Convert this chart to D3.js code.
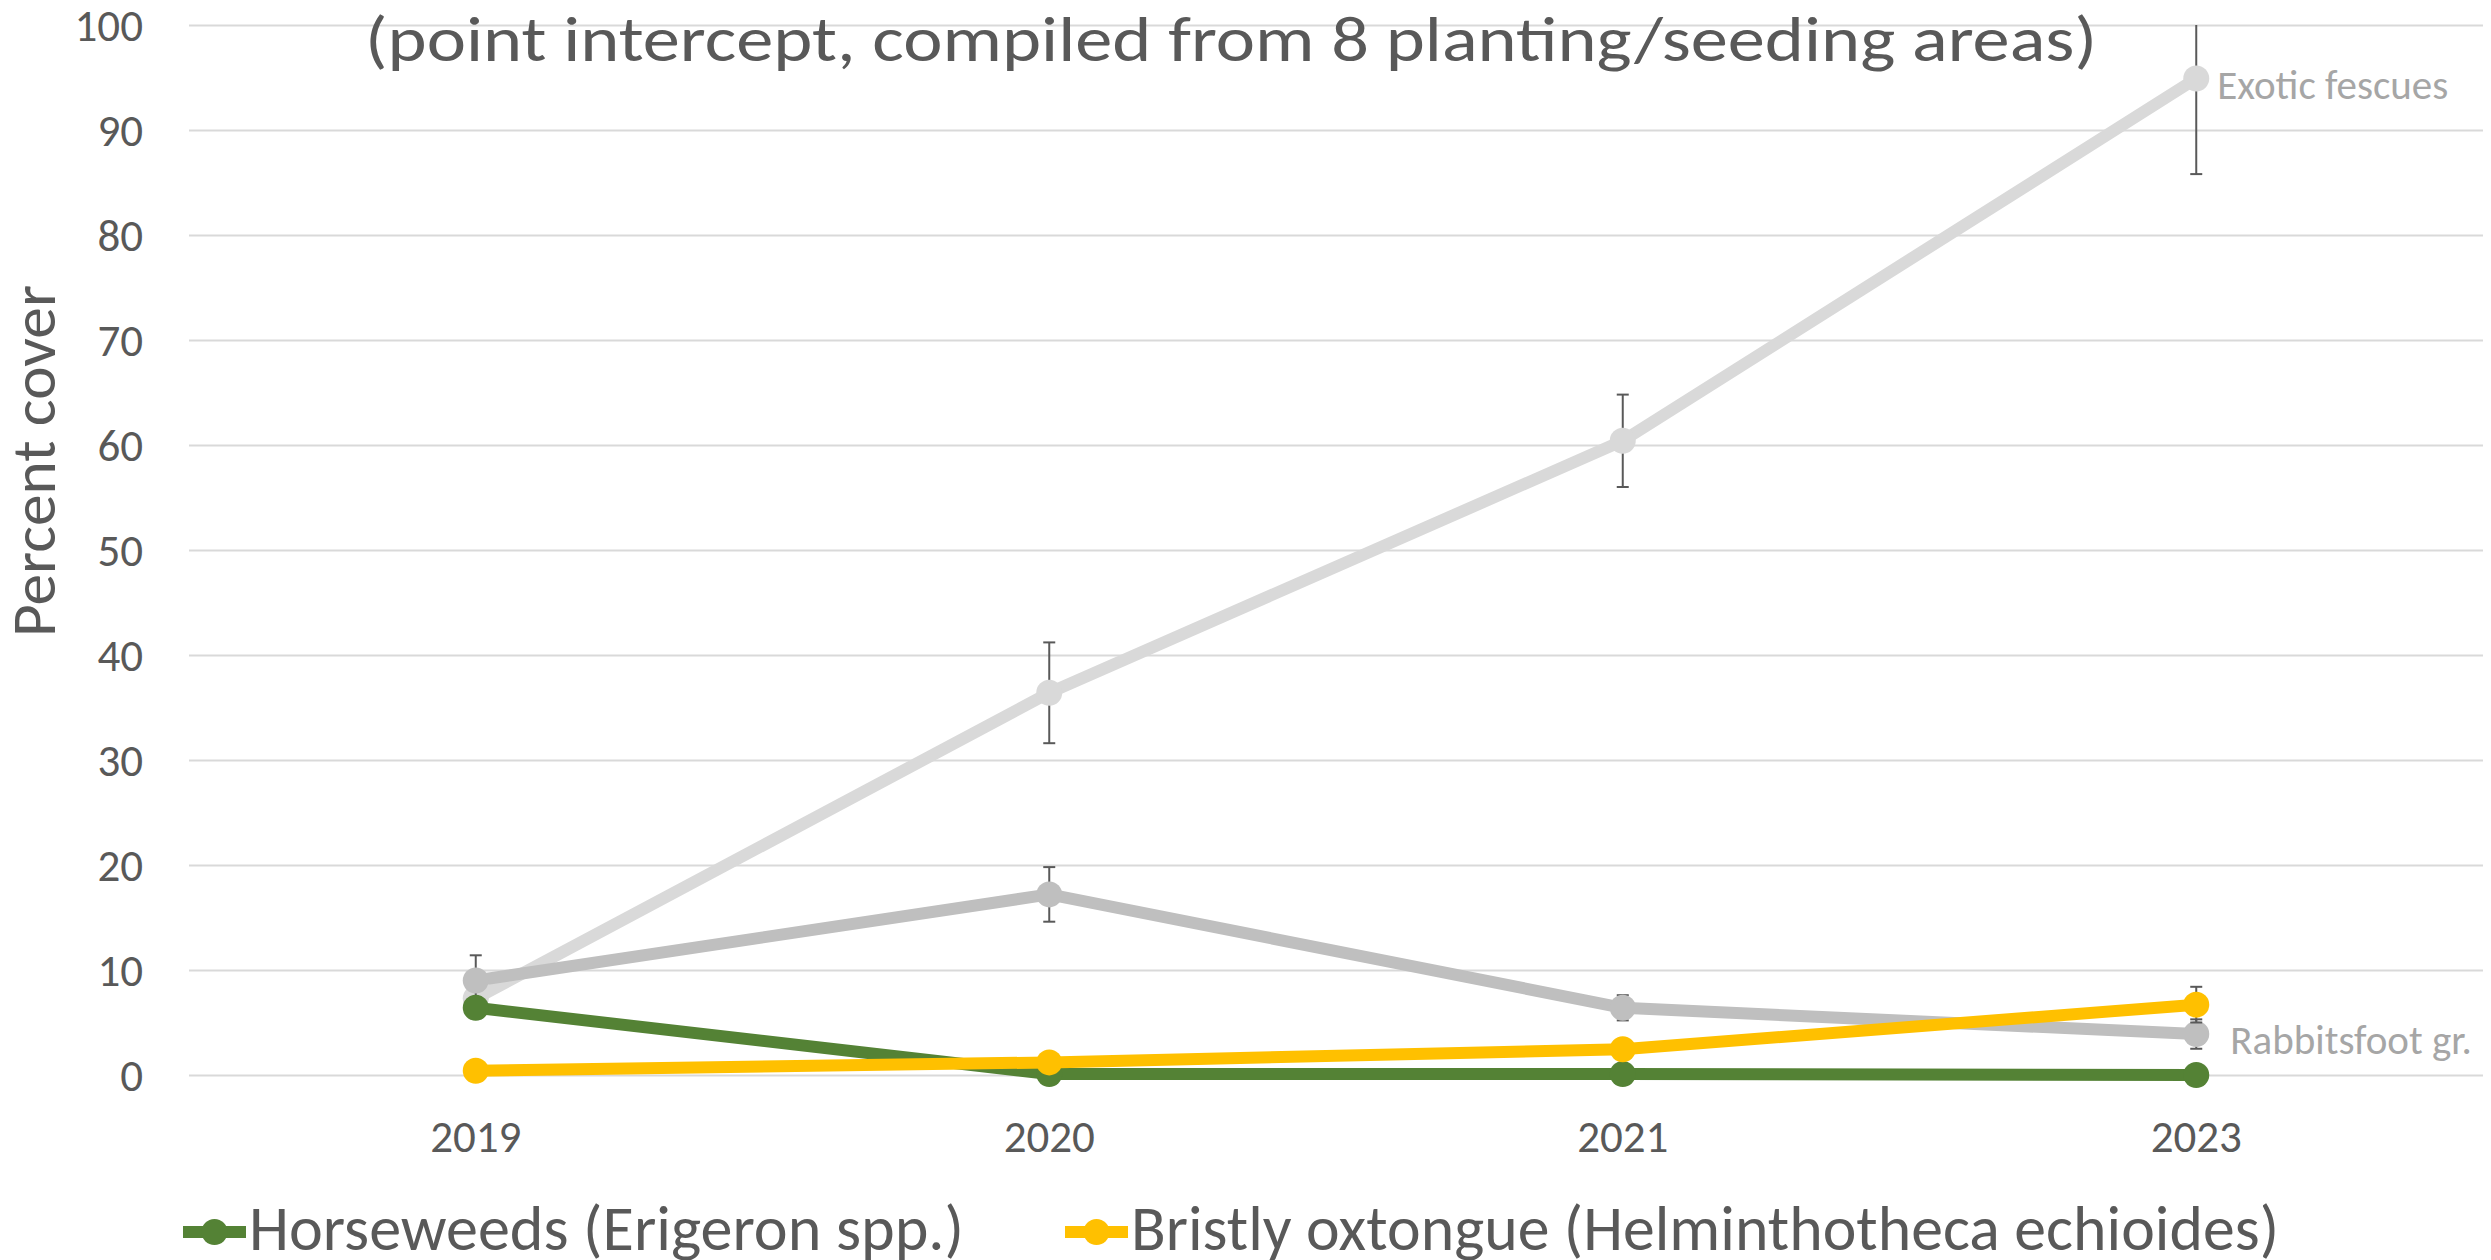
<!DOCTYPE html>
<html>
<head>
<meta charset="utf-8">
<script src="https://cdn.jsdelivr.net/npm/d3@7/dist/d3.min.js"></script>
<style>
  html, body { margin: 0; padding: 0; background: #ffffff; }
  svg { display: block; }
  text { font-family: Carlito, Lato, "Open Sans", sans-serif; }
</style>
</head>
<body>
<svg id="chart" width="2491" height="1260"></svg>
<script>
// ---- data ----
const years = ["2019", "2020", "2021", "2023"];
const yTicks = [0, 10, 20, 30, 40, 50, 60, 70, 80, 90, 100];

const fescues        = [7.3, 36.4, 60.4, 94.9];
const fescuesErr     = [1.5, 4.8, 4.4, 9.1];
const rabbitsfoot    = [9.0, 17.2, 6.4, 3.9];
const rabbitsfootErr = [2.4, 2.6, 1.2, 1.4];
const horseweeds     = [6.4, 0.1, 0.1, 0.0];
const horseweedsErr  = [1.0, 0.1, 0.1, 0.1];
const bristly        = [0.4, 1.2, 2.45, 6.7];
const bristlyErr     = [0.3, 0.5, 0.8, 1.7];

const titleText = "(point intercept, compiled from 8 planting/seeding areas)";
const yAxisTitle = "Percent cover";

const series = [
  { name: "Exotic fescues", values: fescues, err: fescuesErr, color: "#D9D9D9", label: "Exotic fescues", labelDx: 21, labelDy: 20, legend: false },
  { name: "Rabbitsfoot grass", values: rabbitsfoot, err: rabbitsfootErr, color: "#BFBFBF", label: "Rabbitsfoot gr.", labelDx: 34, labelDy: 20, legend: false },
  { name: "Horseweeds (Erigeron spp.)", values: horseweeds, err: horseweedsErr, color: "#548235", label: null, legend: true, legendX: 183, legendW: 715 },
  { name: "Bristly oxtongue (Helminthotheca echioides)", values: bristly, err: bristlyErr, color: "#FFC000", label: null, legend: true, legendX: 1065, legendW: 1148 }
];

// ---- layout ----
const svg = d3.select("#chart");
const plot = { left: 189, right: 2483, top: 25, bottom: 1075 };
const textColor = "#595959";
const lineW = 12;

const x = d3.scaleBand().domain(years).range([plot.left, plot.right]).padding(0);
const cx = d => x(d) + x.bandwidth() / 2;
const y = d3.scaleLinear().domain([0, 100]).range([plot.bottom, plot.top]);

// clip for error bars
svg.append("defs").append("clipPath").attr("id", "plotClip")
  .append("rect").attr("x", plot.left).attr("y", plot.top)
  .attr("width", plot.right - plot.left).attr("height", plot.bottom - plot.top);

// y axis with gridlines
const yAxis = d3.axisLeft(y).tickValues(yTicks)
  .tickSizeInner(-(plot.right - plot.left)).tickSizeOuter(0).tickPadding(46)
  .tickFormat(d3.format("d"));
const gy = svg.append("g").attr("transform", `translate(${plot.left},0)`).call(yAxis);
gy.select(".domain").remove();
gy.selectAll(".tick line").attr("stroke", "#D9D9D9").attr("stroke-width", 2);
gy.selectAll(".tick text").attr("fill", textColor).style("font-size", "45px").attr("dy", "0.34em");

// x axis labels
const xAxis = d3.axisBottom(x).tickSize(0).tickPadding(0);
const gx = svg.append("g").attr("transform", `translate(0,${plot.bottom})`).call(xAxis);
gx.select(".domain").remove();
gx.selectAll(".tick text").attr("fill", textColor).style("font-size", "45px")
  .attr("y", 77).attr("dy", 0);

// y axis title
svg.append("text")
  .attr("transform", "translate(55,461) rotate(-90)")
  .attr("text-anchor", "middle")
  .attr("fill", textColor).style("font-size", "62px")
  .attr("textLength", 352).attr("lengthAdjust", "spacingAndGlyphs")
  .text(yAxisTitle);

// title (second line visible)
svg.append("text")
  .attr("x", 365).attr("y", 61)
  .attr("fill", textColor).style("font-size", "64px")
  .attr("textLength", 1732).attr("lengthAdjust", "spacingAndGlyphs")
  .text(titleText);

// series
const line = d3.line().x((d, i) => cx(years[i])).y(d => y(d));
series.forEach(s => {
  const g = svg.append("g");
  g.append("path").datum(s.values)
    .attr("d", line).attr("fill", "none")
    .attr("stroke", s.color).attr("stroke-width", lineW)
    .attr("stroke-linejoin", "round");

  const eg = g.append("g").attr("clip-path", "url(#plotClip)")
    .attr("stroke", "#595959").attr("stroke-width", 2);
  s.values.forEach((v, i) => {
    const e = s.err[i];
    const xx = cx(years[i]);
    const y1 = y(v + e), y2 = y(Math.max(0, v - e));
    eg.append("line").attr("x1", xx).attr("x2", xx).attr("y1", y1).attr("y2", y2);
    eg.append("line").attr("x1", xx - 6).attr("x2", xx + 6).attr("y1", y1).attr("y2", y1);
    eg.append("line").attr("x1", xx - 6).attr("x2", xx + 6).attr("y1", y2).attr("y2", y2);
  });

  g.selectAll("circle").data(s.values).join("circle")
    .attr("cx", (d, i) => cx(years[i])).attr("cy", d => y(d))
    .attr("r", 13).attr("fill", s.color);

  if (s.label) {
    const last = s.values.length - 1;
    svg.append("text")
      .attr("x", cx(years[last]) + s.labelDx)
      .attr("y", y(s.values[last]) + s.labelDy)
      .attr("fill", "#A6A6A6").style("font-size", "41px")
      .text(s.label);
  }
});

// legend
const legendY = 1232;
series.filter(s => s.legend).forEach(s => {
  const lg = svg.append("g");
  lg.append("line").attr("x1", s.legendX).attr("x2", s.legendX + 63)
    .attr("y1", legendY).attr("y2", legendY)
    .attr("stroke", s.color).attr("stroke-width", lineW);
  lg.append("circle").attr("cx", s.legendX + 31.5).attr("cy", legendY)
    .attr("r", 13).attr("fill", s.color);
  lg.append("text").attr("x", s.legendX + 66).attr("y", 1250)
    .attr("fill", textColor).style("font-size", "64px")
    .attr("textLength", s.legendW).attr("lengthAdjust", "spacingAndGlyphs")
    .text(s.name);
});
</script>
</body>
</html>
